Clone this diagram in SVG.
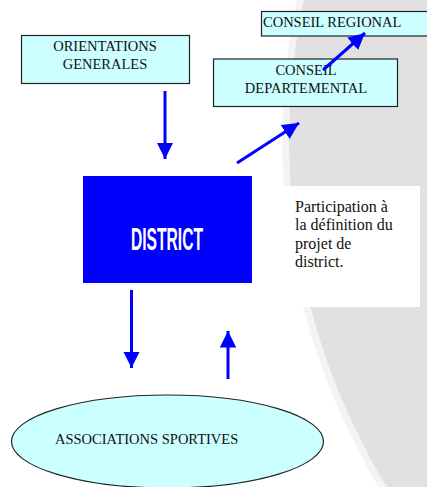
<svg xmlns="http://www.w3.org/2000/svg" width="427" height="487" viewBox="0 0 427 487">
<defs>
<style>
.box{fill:#ccffff;stroke:#222;stroke-width:1.2}
.lbl{font-family:"Liberation Serif",serif;font-size:14.5px;fill:#111}
.para{font-family:"Liberation Serif",serif;font-size:16px;fill:#111}
.arr{stroke:#0000ff;stroke-width:3;fill:none}
</style>
<marker id="ah" viewBox="0 0 10 10" refX="10" refY="5" markerWidth="5.5" markerHeight="5.5" markerUnits="strokeWidth" orient="auto">
<path d="M0,0 L10,5 L0,10 Z" fill="#0000ff"/>
</marker>
</defs>
<rect width="427" height="487" fill="#ffffff"/>
<g id="background">
<circle cx="953" cy="140" r="671" fill="#f4f4f4"/>
<circle cx="953" cy="140" r="664" fill="#e1e1e1"/>
</g>
<g id="orientations">
<rect class="box" x="21.5" y="35.5" width="168" height="48"/>
<text class="lbl" x="105" y="51" text-anchor="middle">ORIENTATIONS</text>
<text class="lbl" x="105" y="69" text-anchor="middle">GENERALES</text>
</g>
<g id="conseil-regional">
<rect class="box" x="261.5" y="11.5" width="170" height="24.5"/>
<text class="lbl" x="263" y="26.5">CONSEIL REGIONAL</text>
</g>
<g id="conseil-departemental">
<rect class="box" x="213.5" y="59" width="184" height="47.5"/>
<text class="lbl" x="306" y="74.5" text-anchor="middle">CONSEIL</text>
<text class="lbl" x="306" y="92.5" text-anchor="middle">DEPARTEMENTAL</text>
</g>
<g id="district">
<rect x="83" y="176" width="169" height="107" fill="#0000ff"/>
<text x="167" y="250" text-anchor="middle" font-family="'Liberation Sans',Arial,sans-serif" font-weight="bold" font-size="32" fill="#ffffff" textLength="72" lengthAdjust="spacingAndGlyphs">DISTRICT</text>
</g>
<g id="participation">
<rect x="273" y="186" width="147" height="121" fill="#ffffff"/>
<text class="para" x="295" y="211.5">Participation à</text>
<text class="para" x="295" y="230">la définition du</text>
<text class="para" x="295" y="248.5">projet de</text>
<text class="para" x="295" y="267">district.</text>
</g>
<g id="associations">
<ellipse cx="167.5" cy="441.5" rx="156" ry="46.5" fill="#ccffff" stroke="#222" stroke-width="1.2"/>
<text class="lbl" x="55" y="444">ASSOCIATIONS SPORTIVES</text>
</g>
<g id="connectors">
<line class="arr" x1="165" y1="91" x2="165" y2="159" marker-end="url(#ah)"/>
<line class="arr" x1="237" y1="163" x2="299" y2="123" marker-end="url(#ah)"/>
<line class="arr" x1="323" y1="70" x2="365" y2="33" marker-end="url(#ah)"/>
<line class="arr" x1="131.5" y1="290" x2="131.5" y2="368" marker-end="url(#ah)"/>
<line class="arr" x1="228" y1="379" x2="228" y2="331" marker-end="url(#ah)"/>
</g>
</svg>
